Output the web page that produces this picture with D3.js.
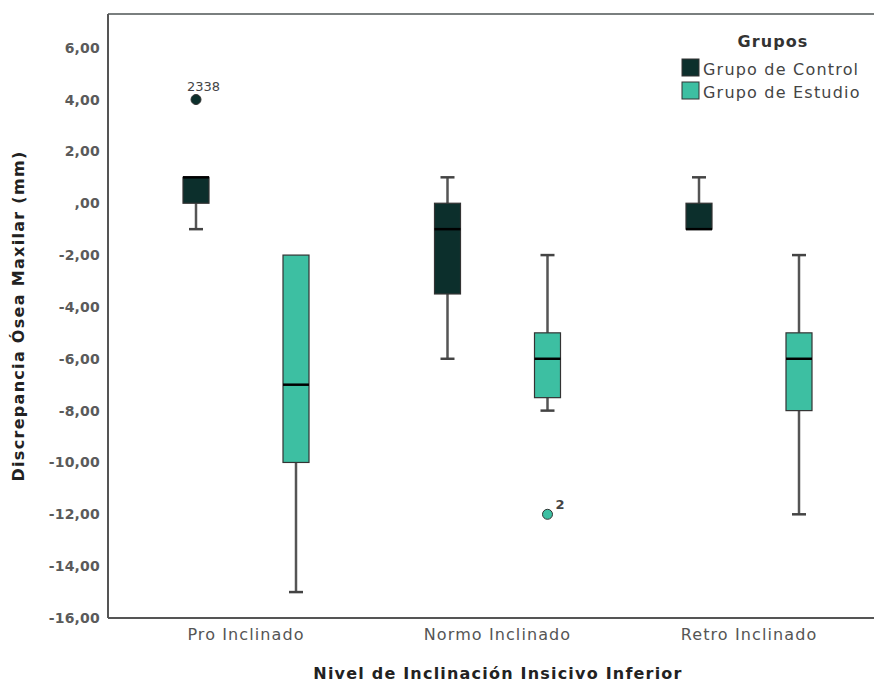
<!DOCTYPE html>
<html><head><meta charset="utf-8">
<script src="https://cdn.jsdelivr.net/npm/d3@7"></script>
<style>body{margin:0;background:#fff}</style>
</head><body>
<script>
const categories = ["Pro Inclinado", "Normo Inclinado", "Retro Inclinado"];
const groups = ["Grupo de Control", "Grupo de Estudio"];
const colors = ["#0c2f2c", "#3dbfa2"];
// [whiskerLow, q1, median, q3, whiskerHigh] per category per group
const controlStats = [[-1, 0, 1, 1, 1], [-6, -3.5, -1, 0, 1], [-1, -1, -1, 0, 1]];
const studyStats = [[-15, -10, -7, -2, -2], [-8, -7.5, -6, -5, -2], [-12, -8, -6, -5, -2]];
const outliers = [
  {cat: "Pro Inclinado", group: 0, value: 4, label: "2338"},
  {cat: "Normo Inclinado", group: 1, value: -12, label: "2"}
];
const yTicks = [6, 4, 2, 0, -2, -4, -6, -8, -10, -12, -14, -16];

(function () {
const W = 875, H = 684;
const svg = d3.select("body").append("svg").attr("width", W).attr("height", H);
const pL = 108, pR = 874, pT = 14, pB = 618;
const y = d3.scaleLinear().domain([-16, 7.3]).range([pB, pT]);
const x = d3.scaleBand().domain(categories).range([120.25, 874.75]);
const xg = d3.scaleBand().domain(groups).range([-100, 100]);
const fmt = v => { const s = Math.abs(v).toFixed(2).replace(".", ","); return (v < 0 ? "-" : "") + (Math.abs(v) < 1e-9 ? s.replace(/^0/, "") : s); };
const FF = "DejaVu Sans, Verdana, sans-serif";

svg.append("path").attr("d", `M${pL},${pT}H${pR}`).attr("stroke", "#7a7f7f").attr("stroke-width", 2).attr("fill", "none");
const yAxis = svg.append("g").attr("transform", `translate(${pL},0)`)
  .call(d3.axisLeft(y).tickValues(yTicks).tickFormat(fmt).tickSize(0).tickPadding(8));
yAxis.select(".domain").attr("stroke", "#555").attr("stroke-width", 2).attr("d", `M0,${pT}V${pB}`);
yAxis.selectAll("text").attr("font-family", FF).attr("font-size", 14).attr("letter-spacing", 0.2).attr("font-weight", "bold").attr("fill", "#5a5a5a");

const xAxis = svg.append("g").attr("transform", `translate(0,${pB})`)
  .call(d3.axisBottom(x).tickSize(0).tickPadding(11));
xAxis.select(".domain").attr("stroke", "#555").attr("stroke-width", 2).attr("d", `M${pL},0H${pR}`);
xAxis.selectAll("text").attr("font-family", FF).attr("font-size", 16).attr("letter-spacing", 1.1).attr("fill", "#555");

const boxes = [];
categories.forEach((c, i) => {
  boxes.push({cat: c, g: 0, s: controlStats[i]});
  boxes.push({cat: c, g: 1, s: studyStats[i]});
});
const bw = 26, cap = 14;
boxes.forEach(b => {
  const cx = x(b.cat) + x.bandwidth() / 2 + xg(groups[b.g]) + xg.bandwidth() / 2;
  const [lo, q1, md, q3, hi] = b.s;
  const g = svg.append("g");
  if (hi > q3) {
    g.append("line").attr("x1", cx).attr("x2", cx).attr("y1", y(hi)).attr("y2", y(q3)).attr("stroke", "#555").attr("stroke-width", 2.5);
    g.append("line").attr("x1", cx - cap / 2).attr("x2", cx + cap / 2).attr("y1", y(hi)).attr("y2", y(hi)).attr("stroke", "#444").attr("stroke-width", 2.5);
  }
  if (lo < q1) {
    g.append("line").attr("x1", cx).attr("x2", cx).attr("y1", y(q1)).attr("y2", y(lo)).attr("stroke", "#555").attr("stroke-width", 2.5);
    g.append("line").attr("x1", cx - cap / 2).attr("x2", cx + cap / 2).attr("y1", y(lo)).attr("y2", y(lo)).attr("stroke", "#444").attr("stroke-width", 2.5);
  }
  g.append("rect").attr("x", cx - bw / 2).attr("y", y(q3)).attr("width", bw).attr("height", y(q1) - y(q3))
    .attr("fill", colors[b.g]).attr("stroke", "#333").attr("stroke-width", 1.2);
  g.append("line").attr("x1", cx - bw / 2).attr("x2", cx + bw / 2).attr("y1", y(md)).attr("y2", y(md)).attr("stroke", "#000").attr("stroke-width", 2.5);
});

outliers.forEach(o => {
  const cx = x(o.cat) + x.bandwidth() / 2 + xg(groups[o.group]) + xg.bandwidth() / 2;
  svg.append("circle").attr("cx", cx).attr("cy", y(o.value)).attr("r", 5).attr("fill", colors[o.group]).attr("stroke", "#333").attr("stroke-width", 1);
  const lbl = svg.append("text").text(o.label)
    .attr("font-family", FF).attr("font-size", 13).attr("fill", "#444");
  if (o.group === 0) lbl.attr("x", cx - 9).attr("y", y(o.value) - 9);
  else lbl.attr("x", cx + 8).attr("y", y(o.value) - 5).attr("font-weight", "bold");
});

svg.append("text").attr("x", 498).attr("y", 679).attr("text-anchor", "middle")
  .attr("font-family", FF).attr("font-size", 16).attr("letter-spacing", 1.2).attr("font-weight", "bold").attr("fill", "#222")
  .text("Nivel de Inclinación Insicivo Inferior");
svg.append("text").attr("transform", "translate(24,316) rotate(-90)").attr("text-anchor", "middle")
  .attr("font-family", FF).attr("font-size", 16).attr("letter-spacing", 1.3).attr("font-weight", "bold").attr("fill", "#222")
  .text("Discrepancia Ósea Maxilar (mm)");

const lg = svg.append("g");
lg.append("text").attr("x", 773).attr("y", 47).attr("text-anchor", "middle")
  .attr("font-family", FF).attr("font-size", 16).attr("letter-spacing", 1.1).attr("font-weight", "bold").attr("fill", "#333").text("Grupos");
groups.forEach((gname, i) => {
  lg.append("rect").attr("x", 682).attr("y", 59 + i * 23).attr("width", 17).attr("height", 17)
    .attr("fill", colors[i]).attr("stroke", "#333").attr("stroke-width", 1);
  lg.append("text").attr("x", 703).attr("y", 75 + i * 23).text(gname)
    .attr("font-family", FF).attr("font-size", 16).attr("letter-spacing", 1.2).attr("fill", "#444");
});
})();
</script>
</body></html>
